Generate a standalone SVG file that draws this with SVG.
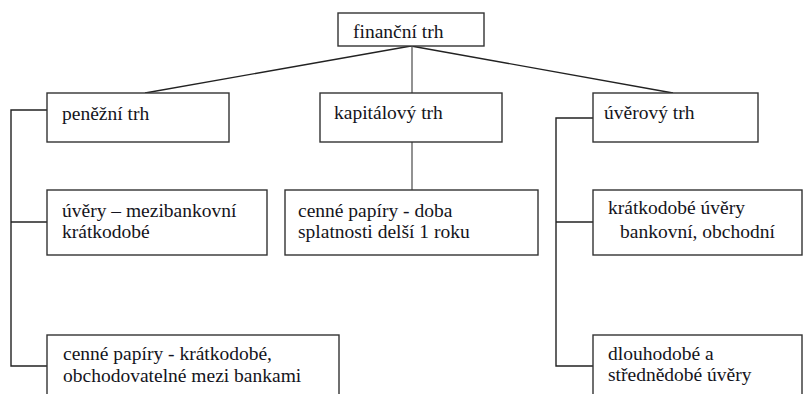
<svg xmlns="http://www.w3.org/2000/svg" width="803" height="394" viewBox="0 0 803 394">
<defs>
<style>
.box{fill:#fff;stroke:#333;stroke-width:1.4}
.c{fill:none;stroke:#222;stroke-width:1.4}
.g{fill:none;stroke:#777;stroke-width:1.6}
</style>
</defs>
<rect width="803" height="394" fill="#fff"/>
<g id="connectors">
<line class="c" x1="411" y1="46" x2="145" y2="93"/>
<line class="c" x1="411" y1="46" x2="673" y2="93"/>
<line class="g" x1="412" y1="46" x2="412" y2="93"/>
<line class="g" x1="412" y1="142" x2="412" y2="190"/>
<polyline class="c" points="47,110 11,110 11,366 47,366"/>
<line class="c" x1="11" y1="222" x2="47" y2="222"/>
<polyline class="c" points="593,118 556,118 556,366 593,366"/>
<line class="c" x1="556" y1="222" x2="593" y2="222"/>
</g>
<g id="financni-trh">
<rect class="box" x="338" y="13" width="146" height="33"/>
<text x="353" y="38" font-size="19.5" fill="#141420" font-family="Times New Roman">finanční trh</text>
</g>
<g id="penezni-trh">
<rect class="box" x="47" y="93" width="182" height="49"/>
<text x="62" y="120" font-size="19.5" fill="#141420" font-family="Times New Roman">peněžní trh</text>
</g>
<g id="kapitalovy-trh">
<rect class="box" x="320" y="93" width="182" height="49"/>
<text x="334" y="119" font-size="19.5" fill="#141420" font-family="Times New Roman">kapitálový trh</text>
</g>
<g id="uverovy-trh">
<rect class="box" x="593" y="93" width="165" height="49"/>
<text x="604" y="119" font-size="19.5" fill="#141420" font-family="Times New Roman">úvěrový trh</text>
</g>
<g id="uvery-mezibankovni">
<rect class="box" x="47" y="190" width="220" height="65"/>
<text x="62" y="217" font-size="19.5" fill="#141420" font-family="Times New Roman">úvěry – mezibankovní</text>
<text x="62" y="238" font-size="19.5" fill="#141420" font-family="Times New Roman">krátkodobé</text>
</g>
<g id="cenne-papiry-doba">
<rect class="box" x="285" y="190" width="253" height="65"/>
<text x="298" y="217" font-size="19.5" fill="#141420" font-family="Times New Roman">cenné papíry - doba</text>
<text x="298" y="238" font-size="19.5" fill="#141420" font-family="Times New Roman">splatnosti delší 1 roku</text>
</g>
<g id="kratkodobe-uvery">
<rect class="box" x="593" y="190" width="209" height="65"/>
<text x="608" y="214" font-size="19.5" fill="#141420" font-family="Times New Roman">krátkodobé úvěry</text>
<text x="620" y="238" font-size="19.5" fill="#141420" font-family="Times New Roman">bankovní, obchodní</text>
</g>
<g id="cenne-papiry-kratkodobe">
<rect class="box" x="47" y="335" width="292" height="70"/>
<text x="63" y="360" font-size="19.5" fill="#141420" font-family="Times New Roman">cenné papíry - krátkodobé,</text>
<text x="63" y="382" font-size="19.5" fill="#141420" font-family="Times New Roman">obchodovatelné mezi bankami</text>
</g>
<g id="dlouhodobe-uvery">
<rect class="box" x="593" y="335" width="209" height="70"/>
<text x="608" y="360" font-size="19.5" fill="#141420" font-family="Times New Roman">dlouhodobé a</text>
<text x="608" y="381" font-size="19.5" fill="#141420" font-family="Times New Roman">střednědobé úvěry</text>
</g>
</svg>
